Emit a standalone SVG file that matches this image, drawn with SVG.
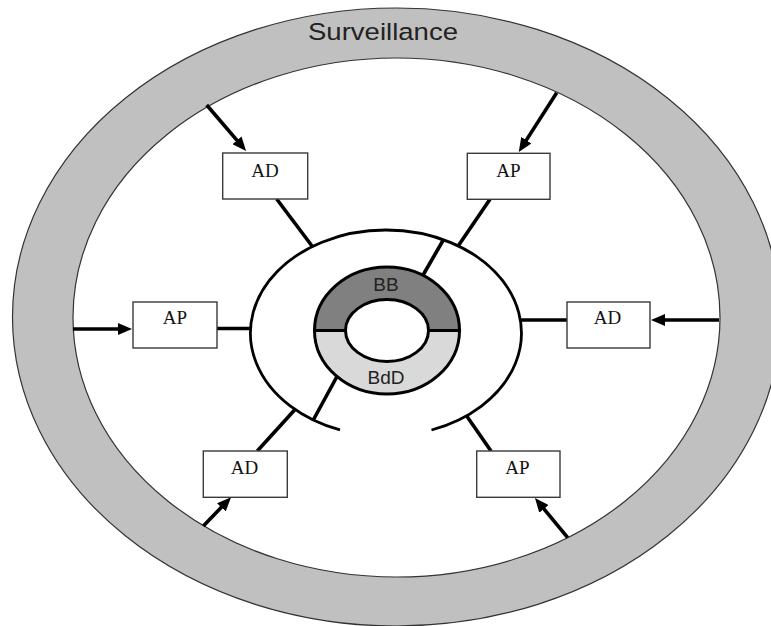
<svg xmlns="http://www.w3.org/2000/svg" width="771" height="626" viewBox="0 0 771 626">
<style>
.box{fill:#fff;stroke:#3a3a3a;stroke-width:1.4}
.lbl{font-family:"Liberation Serif","Times New Roman",serif;font-size:19px;fill:#111;text-anchor:middle}
.sans{font-family:"Liberation Sans",Arial,sans-serif;fill:#222;text-anchor:middle}
.con{stroke:#000;stroke-width:3.6;fill:none}
.arr{stroke:#000;stroke-width:3.6;fill:none;marker-end:url(#ah)}
.ring{stroke:#000;stroke-width:2.8;fill:none}
</style>
<defs>
<marker id="ah" viewBox="0 0 14 12" refX="8" refY="6" markerWidth="14" markerHeight="12" markerUnits="userSpaceOnUse" orient="auto">
<path d="M0,0 L14,6 L0,12 Z" fill="#000"/>
</marker>
</defs>
<rect width="771" height="626" fill="#fff"/>
<g id="surveillance">
<ellipse cx="396.5" cy="317" rx="384" ry="309" fill="#c0c0c0" stroke="#333" stroke-width="1.2"/>
<ellipse cx="396.5" cy="317.5" rx="323.5" ry="259.5" fill="#fff" stroke="#333" stroke-width="1.2"/>
<text x="383" y="40" class="sans" font-size="24.5" textLength="150" lengthAdjust="spacingAndGlyphs">Surveillance</text>
</g>
<g id="middle-ring">
<path class="ring" d="M340,429.9 A135.5,103 0 1 1 431.5,430"/>
</g>
<g id="core">
<path d="M314.5,330.5 A72.5,63.5 0 0 1 459.5,330.5 L428.5,330.5 A41.5,31 0 0 0 345.5,330.5 Z" fill="#808080" stroke="#000" stroke-width="3"/>
<path d="M314.5,330.5 A72.5,63.5 0 0 0 459.5,330.5 L428.5,330.5 A41.5,31 0 0 1 345.5,330.5 Z" fill="#d9d9d9" stroke="#000" stroke-width="3"/>
<text x="386" y="290.5" class="sans" font-size="19">BB</text>
<text x="386" y="384" class="sans" font-size="19">BdD</text>
</g>
<g id="connectors">
<line class="arr" x1="206.7" y1="105" x2="242.2" y2="146.4"/>
<line class="arr" x1="556.7" y1="92.7" x2="522" y2="146.9"/>
<line class="arr" x1="73" y1="329" x2="126" y2="329"/>
<line class="arr" x1="719" y1="320" x2="657" y2="320"/>
<line class="arr" x1="203.3" y1="526" x2="226.9" y2="501.6"/>
<line class="arr" x1="567.7" y1="537.7" x2="538.8" y2="502.7"/>
<line class="con" x1="276.7" y1="199" x2="312" y2="246"/>
<line class="con" x1="490" y1="199.3" x2="458.3" y2="245.7"/>
<line class="con" x1="443.3" y1="240" x2="422.5" y2="276"/>
<line class="con" x1="217" y1="328.5" x2="251.5" y2="328.5"/>
<line class="con" x1="520.5" y1="320" x2="567" y2="320"/>
<line class="con" x1="257.3" y1="451" x2="295" y2="409.5"/>
<line class="con" x1="336.7" y1="377" x2="313" y2="420.5"/>
<line class="con" x1="491" y1="451" x2="466.7" y2="416"/>
</g>
<g id="ad-top-left">
<rect class="box" x="222.7" y="153" width="85" height="46"/>
<text class="lbl" x="265" y="177">AD</text>
</g>
<g id="ap-top-right">
<rect class="box" x="467.3" y="153.3" width="82.7" height="46"/>
<text class="lbl" x="508.5" y="177">AP</text>
</g>
<g id="ap-left">
<rect class="box" x="133" y="302" width="84" height="46"/>
<text class="lbl" x="175" y="324">AP</text>
</g>
<g id="ad-right">
<rect class="box" x="567" y="302" width="83" height="46"/>
<text class="lbl" x="607.5" y="324">AD</text>
</g>
<g id="ad-bottom-left">
<rect class="box" x="203.3" y="451" width="84" height="46.3"/>
<text class="lbl" x="244.5" y="473.5">AD</text>
</g>
<g id="ap-bottom-right">
<rect class="box" x="476.7" y="451" width="83.3" height="46.3"/>
<text class="lbl" x="517.5" y="474">AP</text>
</g>
</svg>
